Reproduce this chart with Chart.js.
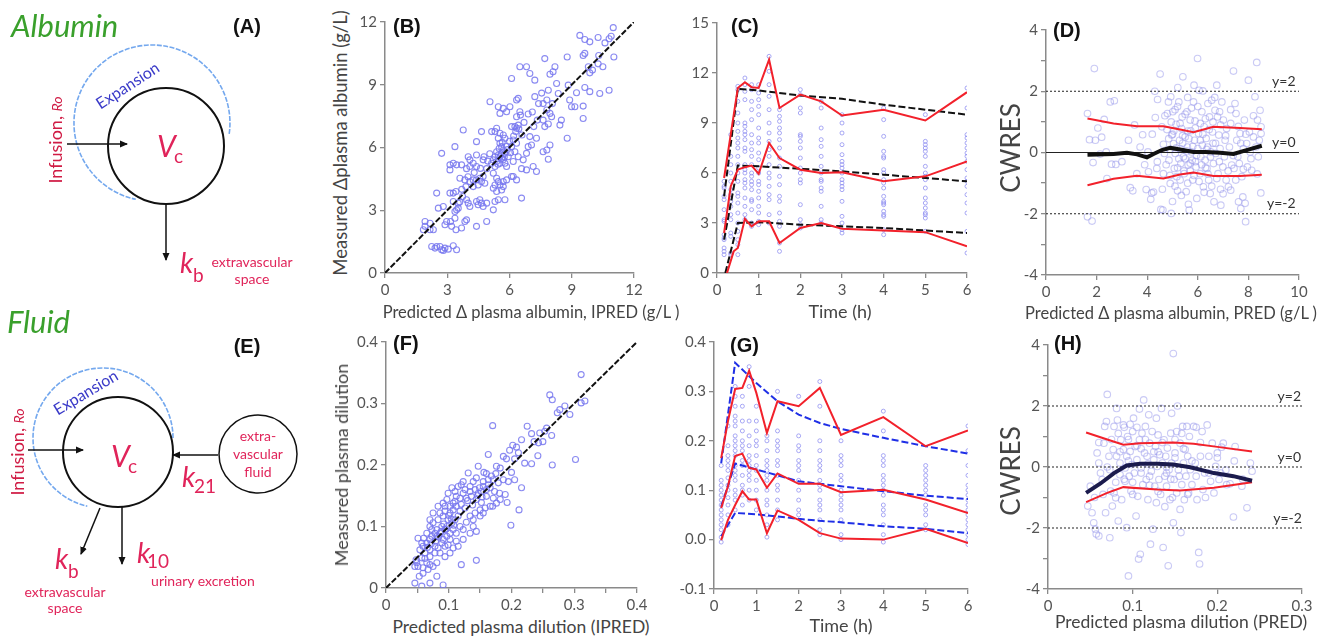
<!DOCTYPE html>
<html>
<head>
<meta charset="utf-8">
<script src="https://cdn.jsdelivr.net/npm/chart.js@4.4.0/dist/chart.umd.min.js"></script>
<style>
  body { margin: 0; background: #fff; width: 1327px; height: 640px; position: relative; overflow: hidden; font-family: Lato, sans-serif; }
  .box { position: absolute; }
  svg { position: absolute; left: 0; top: 0; pointer-events: none; }
  .ttl { position: absolute; white-space: nowrap; color: #444; line-height: 1; transform: translate(-50%, -50%); }
  .ttl.v { transform: translate(-50%, -50%) rotate(-90deg); }
</style>
</head>
<body>
<div class="box" id="pB"></div>
<div class="box" id="pC"></div>
<div class="box" id="pD"></div>
<div class="box" id="pF"></div>
<div class="box" id="pG"></div>
<div class="box" id="pH"></div>

<!-- axis titles -->
<div class="ttl" style="left:531px;top:312px;font-size:16.5px">Predicted Δ plasma albumin, IPRED (g/L )</div>
<div class="ttl v" style="left:340px;top:143px;font-size:18.5px">Measured Δplasma albumin (g/L)</div>
<div class="ttl" style="left:840px;top:311px;font-size:18px">Time (h)</div>
<div class="ttl" style="left:1171px;top:313px;font-size:16.5px">Predicted Δ plasma albumin, PRED (g/L )</div>
<div class="ttl v" style="left:1010px;top:148px;font-size:26px">CWRES</div>
<div class="ttl" style="left:521px;top:627px;font-size:17.5px">Predicted plasma dilution (IPRED)</div>
<div class="ttl v" style="left:341px;top:465px;font-size:18px">Measured plasma dilution</div>
<div class="ttl" style="left:841px;top:625px;font-size:18px">Time (h)</div>
<div class="ttl" style="left:1181px;top:622px;font-size:17.5px">Predicted plasma dilution (PRED)</div>
<div class="ttl v" style="left:1010px;top:471px;font-size:26px">CWRES</div>

<svg width="1327" height="640" font-family="Lato, sans-serif">
  <defs>
    <marker id="ah" markerWidth="8" markerHeight="8" refX="7" refY="4" orient="auto" markerUnits="userSpaceOnUse">
      <path d="M0,0.5 L8,4 L0,7.5 Z" fill="#111"/>
    </marker>
  </defs>
  <!-- Albumin -->
  <text x="11" y="37" font-size="31" font-style="italic" fill="#3aa02c">Albumin</text>
  <text x="247" y="33" font-size="20" font-weight="bold" font-family="Liberation Sans, Arial" text-anchor="middle" fill="#111">(A)</text>
  <path d="M229.2,133.9 A78,78 0 1 0 135.8,199.3" fill="none" stroke="#74a8ee" stroke-width="1.6" stroke-dasharray="5 1.5"/>
  <circle cx="166" cy="146" r="58" fill="none" stroke="#111" stroke-width="2"/>
  <text x="128" y="91" font-size="16" fill="#3a3ac8" text-anchor="middle" transform="rotate(-33 128 86)">Expansion</text>
  <line x1="67" y1="144" x2="127" y2="144" stroke="#111" stroke-width="1.5" marker-end="url(#ah)"/>
  <text x="0" y="0" font-size="18" fill="#d01c45" text-anchor="middle" transform="translate(62 140) rotate(-90)">Infusion, <tspan font-style="italic" font-size="14">Ro</tspan></text>
  <text x="157" y="157" font-size="30" font-style="italic" fill="#e0245a">V</text>
  <text x="174" y="163" font-size="19" fill="#e0245a">c</text>
  <line x1="166" y1="204" x2="166" y2="260" stroke="#111" stroke-width="1.5" marker-end="url(#ah)"/>
  <text x="180" y="273" font-size="28" font-style="italic" fill="#e0245a">k</text>
  <text x="193" y="282" font-size="19" fill="#e0245a">b</text>
  <text x="252" y="267" font-size="14" fill="#e0245a" text-anchor="middle">extravascular</text>
  <text x="252" y="284" font-size="14" fill="#e0245a" text-anchor="middle">space</text>

  <!-- Fluid -->
  <text x="7" y="333" font-size="31" font-style="italic" fill="#3aa02c">Fluid</text>
  <text x="247" y="353" font-size="20" font-weight="bold" font-family="Liberation Sans, Arial" text-anchor="middle" fill="#111">(E)</text>
  <path d="M173,438 A70,70 0 1 0 87.3,506.2" fill="none" stroke="#74a8ee" stroke-width="1.6" stroke-dasharray="5 1.5"/>
  <circle cx="118" cy="452" r="55" fill="none" stroke="#111" stroke-width="2"/>
  <text x="86" y="398" font-size="16" fill="#3a3ac8" text-anchor="middle" transform="rotate(-31 86 393)">Expansion</text>
  <line x1="28" y1="450" x2="83" y2="450" stroke="#111" stroke-width="1.5" marker-end="url(#ah)"/>
  <text x="0" y="0" font-size="18" fill="#d01c45" text-anchor="middle" transform="translate(24 452) rotate(-90)">Infusion, <tspan font-style="italic" font-size="14">Ro</tspan></text>
  <text x="111" y="467" font-size="30" font-style="italic" fill="#e0245a">V</text>
  <text x="128" y="473" font-size="19" fill="#e0245a">c</text>
  <circle cx="258" cy="454" r="39" fill="none" stroke="#111" stroke-width="1.5"/>
  <text x="258" y="441" font-size="14" fill="#e0245a" text-anchor="middle">extra-</text>
  <text x="258" y="459" font-size="14" fill="#e0245a" text-anchor="middle">vascular</text>
  <text x="258" y="477" font-size="14" fill="#e0245a" text-anchor="middle">fluid</text>
  <line x1="218" y1="455" x2="173" y2="455" stroke="#111" stroke-width="1.5" marker-end="url(#ah)"/>
  <text x="182" y="487" font-size="28" font-style="italic" fill="#e0245a">k</text>
  <text x="194" y="493" font-size="19" fill="#e0245a">21</text>
  <line x1="100" y1="508" x2="81" y2="554" stroke="#111" stroke-width="1.5" marker-end="url(#ah)"/>
  <line x1="122" y1="507" x2="122" y2="564" stroke="#111" stroke-width="1.5" marker-end="url(#ah)"/>
  <text x="55" y="569" font-size="28" font-style="italic" fill="#e0245a">k</text>
  <text x="68" y="578" font-size="19" fill="#e0245a">b</text>
  <text x="65" y="597" font-size="14" fill="#e0245a" text-anchor="middle">extravascular</text>
  <text x="65" y="613" font-size="14" fill="#e0245a" text-anchor="middle">space</text>
  <text x="137" y="563" font-size="28" font-style="italic" fill="#e0245a">k</text>
  <text x="147" y="568" font-size="19" fill="#e0245a">10</text>
  <text x="203" y="586" font-size="14" fill="#e0245a" text-anchor="middle">urinary excretion</text>

  <!-- panel letters -->
  <g font-size="20" font-weight="bold" font-family="Liberation Sans, Arial" fill="#111">
    <text x="393" y="33">(B)</text>
    <text x="731" y="33">(C)</text>
    <text x="1053" y="37">(D)</text>
    <text x="393" y="350">(F)</text>
    <text x="730" y="352">(G)</text>
    <text x="1054" y="350">(H)</text>
  </g>
</svg>

<script>
// ---- (B) measured vs predicted albumin (x = IPRED, y = measured)
const albuminIpredObs = [
  [9.39,11.36],[9.63,11.16],[9.87,11.05],[10.27,11.26],[11.0,11.73],[10.9,11.32],[10.8,11.2],[10.6,11.0],[11.03,10.33],[10.3,10.4],
  [10.27,10.0],[10.0,9.7],[9.8,9.86],[9.87,9.57],[9.63,10.5],[9.55,10.4],[10.5,9.86],[10.35,8.58],[10.8,8.74],[9.87,8.67],
  [9.63,8.87],[9.55,7.98],[9.55,7.39],[9.23,8.62],[8.9,8.27],[8.99,7.95],[9.15,7.95],[8.78,10.33],[8.83,8.98],[8.78,6.44],
  [8.43,7.07],[8.5,7.31],[8.35,8.58],[8.27,9.06],[8.19,9.86],[8.1,9.62],[7.95,9.5],[7.87,8.74],[7.7,10.25],[7.8,8.27],
  [7.62,8.1],[7.8,7.79],[7.95,7.63],[8.03,7.47],[8.07,8.1],[7.62,7.31],[7.87,7.12],[7.7,7.0],[7.95,6.12],[7.8,5.88],
  [7.87,5.44],[7.62,5.8],[7.34,7.31],[7.3,6.44],[7.17,7.0],[7.22,8.43],[7.22,9.22],[6.98,9.54],[6.82,9.86],[6.5,9.86],
  [6.1,9.3],[6.98,6.52],[7.06,6.12],[7.14,5.09],[7.3,4.85],[6.9,6.04],[6.82,5.72],[6.66,5.41],[6.82,4.93],[6.58,4.99],
  [6.58,3.58],[6.34,8.27],[6.42,8.35],[6.34,7.47],[6.42,7.07],[6.5,7.71],[6.53,7.55],[6.26,7.0],[6.34,6.92],[6.1,7.0],
  [6.3,6.76],[6.18,6.36],[6.34,6.2],[6.1,6.04],[6.26,5.8],[6.42,5.56],[6.18,5.33],[5.94,5.56],[6.18,4.61],[6.1,4.61],
  [6.34,4.45],[5.86,4.45],[5.7,4.37],[6.02,7.95],[5.86,7.71],[5.7,7.87],[5.54,7.63],[5.46,7.95],[5.06,8.19],[5.14,6.76],
  [5.3,6.76],[5.38,6.92],[5.54,6.68],[5.7,6.6],[5.78,6.44],[5.46,6.44],[5.54,6.2],[5.62,6.04],[5.7,5.88],[5.78,5.72],
  [5.38,5.8],[5.46,5.64],[5.3,5.56],[5.54,5.56],[5.62,5.48],[5.7,5.41],[5.22,5.41],[5.14,5.25],[5.38,5.33],[5.54,5.25],
  [5.78,5.25],[5.86,5.09],[5.3,5.09],[5.22,4.77],[5.38,4.53],[5.46,4.37],[5.3,4.21],[5.54,4.21],[5.7,4.13],[5.22,4.05],
  [5.38,3.9],[5.62,3.97],[5.46,3.5],[5.3,3.42],[5.78,3.5],[5.22,3.02],[4.73,5.41],[4.77,5.56],[4.9,4.99],[4.73,4.61],
  [4.57,4.53],[4.65,4.37],[4.81,4.29],[4.41,4.45],[4.49,4.21],[4.25,4.45],[4.09,4.37],[4.25,4.13],[4.01,5.56],[4.09,5.41],
  [4.25,5.25],[4.09,5.09],[3.93,4.99],[4.41,5.09],[4.41,5.64],[4.65,6.76],[4.41,6.28],[3.77,6.84],[3.37,6.04],[3.29,5.25],
  [3.45,5.17],[3.13,5.17],[3.13,4.93],[3.69,5.17],[3.61,4.53],[3.85,4.45],[3.9,4.13],[3.74,3.66],[3.93,3.5],[4.01,3.34],
  [4.09,3.18],[4.41,3.42],[4.57,3.5],[4.65,3.34],[4.49,3.26],[4.73,3.18],[4.9,3.34],[4.9,2.46],[4.41,2.23],[3.53,3.1],
  [3.45,3.02],[3.37,2.94],[3.53,3.34],[3.29,3.42],[3.42,3.9],[3.29,3.82],[3.13,3.82],[2.81,3.18],[2.57,3.1],[2.73,5.72],
  [3.37,2.62],[3.16,2.46],[2.97,2.46],[3.21,2.23],[3.42,2.07],[3.69,2.15],[3.85,2.46],[3.93,2.54],[2.89,2.31],[2.49,3.82],
  [2.17,2.38],[1.93,2.46],[1.93,2.23],[1.85,2.07],[2.17,2.07],[2.33,2.07],[2.65,1.27],[2.49,1.27],[2.25,1.27],[2.89,1.19],
  [3.05,1.14],[3.29,1.3],[3.45,1.11],[2.73,1.11],[2.81,1.08],[2.41,1.19],[5.9,5.9],[6.0,6.3],[5.6,5.7],[6.6,6.6],
  [5.5,5.95],[5.65,6.25],[5.75,5.55],[5.45,5.2],[5.85,6.05],[6.05,5.75],[6.2,6.55],[6.45,6.9],[6.7,7.2],[6.9,7.6],
  [7.1,7.7],[7.4,8.1],[7.55,8.6],[5.05,5.7],[4.95,5.35],[4.6,5.0],[4.3,4.8],[4.0,4.6],[3.7,4.0],[3.6,3.4]
];
const albuminIdentity = [[0,0],[12,12]];

// ---- (C) albumin vs time
const timesC = [0.17,0.33,0.5,0.67,0.83,1,1.25,1.5,2,2.5,3,4,5,6];
const albuminByTime = [
  [1.1,1.3,1.5,2.0,2.1,2.3,3.1,3.2,3.8,4.4,4.6,5.1,5.2,5.5],
  [1.1,1.2,2.2,2.4,3.2,3.5,4.0,4.3,4.5,4.7,5.0,5.5,6.0,6.5,7.0,8.3],
  [1.1,1.7,2.0,2.5,3.0,3.6,4.2,4.6,4.8,5.5,6.0,6.5,7.0,7.5,7.8,8.1,8.5,9.0,9.6,10.3,11.0,11.2],
  [3.2,3.5,4.0,4.5,5.1,5.4,5.6,6.0,6.2,6.5,7.3,7.5,8.0,8.3,8.5,8.8,9.0,10.4,10.9,11.3,11.7],
  [2.8,3.0,3.8,4.3,4.4,5.0,5.3,5.5,5.8,6.0,6.5,7.0,7.4,7.8,8.3,9.2,9.8,10.3,11.0,11.3],
  [2.9,3.1,3.6,4.0,4.5,4.9,5.3,5.5,6.0,6.3,6.8,7.2,7.8,8.1,8.7,9.5,10.0,10.4,10.8,11.3],
  [3.0,3.5,4.4,4.7,5.2,5.7,6.0,6.5,7.0,7.4,7.9,8.4,9.0,9.8,10.6,11.3,12.1,13.0],
  [1.3,1.8,2.8,3.1,3.6,4.3,4.6,5.3,5.8,6.4,6.9,7.5,8.0,8.4,8.7,9.1,9.4,9.8],
  [2.7,2.9,3.2,4.1,5.4,5.6,6.0,6.3,6.9,7.5,7.9,8.2,8.3,9.6,9.9,10.7,11.0],
  [3.0,3.2,4.0,4.9,5.1,5.5,5.6,6.0,6.4,7.0,7.6,8.0,8.7,9.9,10.3],
  [2.4,2.6,3.0,3.4,4.3,5.0,5.2,5.4,5.6,6.0,6.3,6.5,6.7,7.1,7.7,8.4,9.0,9.5],
  [2.3,2.6,3.4,3.5,3.7,4.1,4.2,4.3,4.6,5.1,5.4,5.6,6.0,6.2,6.9,7.0,7.3,8.2,9.2,9.9],
  [2.5,3.3,3.5,3.6,3.9,4.2,4.5,5.1,5.6,5.8,6.0,6.4,7.0,7.3,7.5,7.7,7.9,9.5],
  [1.2,2.5,3.6,4.2,4.7,5.2,5.5,5.7,6.2,6.7,7.0,7.2,7.5,7.8,8.1,8.3,9.9,11.1]
];
const albObsHiX = [0.17,0.5,0.67,0.83,1,1.25,1.5,2,2.5,3,4,5,6];
const albObsHiY = [5.7,11.1,11.45,11.15,11.1,12.8,9.9,10.7,10.3,9.45,9.8,9.15,10.85];
const albObsMidX = [0.17,0.33,0.5,0.67,0.83,1,1.25,1.5,2,2.5,3,4,5,6];
const albObsMidY = [2.4,5.2,6.2,6.35,6.45,5.95,7.8,6.9,6.2,6.0,6.05,5.5,5.8,6.7];
const albObsLoX = [0.24,0.4,0.5,0.67,0.83,1,1.25,1.5,2,2.5,3,4,5,6];
const albObsLoY = [0,1.3,1.5,3.25,2.8,3.1,3.1,1.8,2.7,3.0,2.65,2.55,2.45,1.6];
const albModX = [0.17,0.5,1,2,3,4,5,6];
const albModHiY = [4.6,11.05,10.95,10.65,10.45,10.1,9.8,9.5];
const albModMidY = [2.0,6.45,6.4,6.25,6.1,5.9,5.7,5.5];
const albModLoX = [0.2,0.5,1,2,3,4,5,6];
const albModLoY = [0,3.0,3.05,2.9,2.8,2.7,2.55,2.4];

// ---- (D) CWRES vs PRED, albumin
const albuminCwres = [
  [1.64,1.27],[1.72,0.42],[1.91,2.74],[1.64,-2.1],[1.82,-2.24],[1.95,0.4],[2.05,0.8],[1.86,-0.33],[2.14,-0.05],[2.3,1.08],
  [2.38,0.02],[2.41,-0.85],[2.54,1.65],[2.7,1.69],[2.59,-0.38],[2.76,-0.39],[3.26,0.4],[3.33,-1.15],[3.43,-1.25],[3.59,-0.69],
  [3.72,0.18],[3.82,0.58],[3.96,-1.21],[4.03,0.02],[4.05,-0.63],[4.14,-1.53],[4.25,-1.29],[4.18,-1.32],[4.32,1.14],[4.38,-0.52],
  [4.41,1.73],[4.51,2.56],[4.54,-1.86],[4.58,0.84],[4.62,-1.88],[4.64,0.27],[4.68,-0.03],[4.64,-0.69],[4.78,0.75],[4.8,1.27],
  [4.84,1.65],[4.86,-0.25],[4.91,-1.01],[4.93,1.82],[4.97,0.57],[4.95,-1.99],[5.01,1.33],[5.04,0.29],[5.07,-0.52],[5.11,-0.03],
  [5.14,0.92],[5.17,-0.79],[5.2,-1.25],[5.21,2.12],[5.25,1.65],[5.28,0.4],[5.3,0.13],[5.33,-0.36],[5.36,0.78],[5.38,1.16],
  [5.41,2.47],[5.43,-0.14],[5.46,-0.69],[5.5,0.51],[5.54,-1.28],[5.57,1.33],[5.59,0.18],[5.62,-0.41],[5.63,-1.69],[5.66,-1.88],
  [5.7,1.06],[5.72,0.71],[5.75,0.02],[5.78,-0.25],[5.8,-0.9],[5.83,1.65],[5.87,0.4],[5.89,1.03],[5.93,-0.47],[5.96,-1.5],
  [5.99,3.07],[6.0,0.13],[6.03,0.62],[6.05,2.03],[6.09,-0.69],[6.12,-0.14],[6.16,1.33],[6.18,0.24],[6.2,2.01],[6.22,-1.12],
  [6.25,0.84],[6.29,-0.25],[6.33,0.46],[6.36,-0.52],[6.39,0.18],[6.43,-0.9],[6.46,1.16],[6.49,-1.34],[6.51,0.02],[6.55,1.71],
  [6.58,0.67],[6.62,-0.36],[6.64,-1.61],[6.67,1.8],[6.68,1.38],[6.71,-0.03],[6.75,2.2],[6.78,1.16],[6.8,-0.69],[6.83,0.57],
  [6.86,1.33],[6.88,0.13],[6.91,-1.72],[6.95,1.65],[6.99,-0.47],[7.01,1.06],[7.05,-0.14],[7.08,0.4],[7.12,-0.9],[7.14,0.78],
  [7.21,-1.12],[7.25,0.18],[7.3,-1.23],[7.34,-0.41],[7.41,2.66],[7.43,-0.52],[7.47,1.6],[7.51,1.27],[7.54,0.4],[7.58,-0.14],
  [7.61,-1.61],[7.64,-0.36],[7.67,0.62],[7.7,-1.83],[7.74,-0.79],[7.78,-1.45],[7.8,0.13],[7.84,1.06],[7.87,-1.66],[7.89,-2.26],
  [7.93,0.29],[7.96,-0.47],[8.0,2.36],[8.04,0.67],[8.07,0.02],[8.13,-0.58],[8.2,0.51],[8.26,1.82],[8.3,0.18],[8.33,2.94],
  [8.36,1.06],[8.39,-0.14],[8.43,0.4],[8.46,1.38],[8.49,-1.32],[8.5,0.62],[8.5,0.84],[5.0,0.6],[5.2,-0.5],[5.4,0.3],
  [5.1,1.4],[5.3,-0.9],[5.6,0.7],[5.7,-0.6],[6.1,0.4],[6.3,-0.5],[4.9,0.1],[5.5,-0.2],[5.9,-0.3],[6.6,0.3],
  [4.7,1.2],[4.75,-0.4],[4.85,0.45],[4.9,-0.75],[4.95,1.0],[5.05,0.7],[5.1,-1.1],[5.15,0.15],[5.2,1.5],[5.25,-0.2],
  [5.3,0.95],[5.35,-1.4],[5.4,0.55],[5.45,-0.6],[5.5,1.25],[5.55,0.05],[5.6,-1.0],[5.65,0.45],[5.7,-0.35],[5.75,1.45],
  [5.8,0.2],[5.85,-0.75],[5.9,0.8],[5.95,-0.1],[6.0,1.5],[6.05,-0.95],[6.1,0.95],[6.15,-0.4],[6.2,0.6],[6.25,-1.3],
  [6.3,1.1],[6.35,0.1],[6.4,-0.7],[6.45,0.75],[6.5,-0.15],[6.55,-1.1],[6.6,1.0],[6.7,0.3],[6.75,-0.85],[6.85,-0.3],
  [6.9,0.9],[7.0,-1.35],[7.1,0.55],[7.2,-0.6],[7.3,0.95],[7.4,-0.1],[7.5,-0.9],[7.6,0.85],[7.7,0.3],[7.8,-0.55],
  [7.9,0.6],[8.1,-0.2],[8.2,1.2],[8.35,-0.7],[4.4,-0.3],[4.2,0.6],[3.9,-0.4],[3.5,0.9],[3.0,-0.3],[2.2,0.5],
  [4.6,-1.2],[5.0,-1.6],[5.6,1.8],[6.4,1.6],[7.3,1.4],[6.9,-1.2],[4.3,2.0],[5.85,2.2]
];
const albCwresHiX = [1.64,2.67,3.6,4.64,5.3,5.83,6.62,7.67,8.53];
const albCwresHiY = [1.11,0.95,0.86,0.86,0.75,0.66,0.84,0.8,0.76];
const albCwresLoX = [1.64,2.67,3.59,4.64,5.3,5.83,6.62,7.67,8.53];
const albCwresLoY = [-1.07,-0.86,-0.76,-0.85,-0.72,-0.65,-0.77,-0.77,-0.73];
const albCwresMidX = [1.64,2.67,3.2,3.6,3.99,4.25,4.58,4.91,5.3,5.83,6.3,6.88,7.41,7.93,8.53];
const albCwresMidY = [-0.07,-0.05,-0.01,-0.06,-0.16,-0.05,0.08,0.15,0.1,0.02,0.02,-0.01,-0.05,0.08,0.22];

// ---- (F) measured vs predicted plasma dilution
const dilutionIpredObs = [
  [0.311,0.347],[0.261,0.314],[0.265,0.306],[0.317,0.304],[0.311,0.301],[0.285,0.296],[0.277,0.29],[0.273,0.285],[0.293,0.282],[0.17,0.264],
  [0.225,0.263],[0.256,0.26],[0.253,0.255],[0.245,0.252],[0.232,0.251],[0.216,0.241],[0.236,0.238],[0.243,0.236],[0.25,0.238],[0.264,0.248],
  [0.202,0.232],[0.208,0.229],[0.197,0.224],[0.211,0.22],[0.242,0.215],[0.187,0.214],[0.192,0.21],[0.163,0.217],[0.205,0.21],[0.221,0.203],
  [0.232,0.202],[0.265,0.2],[0.302,0.209],[0.176,0.198],[0.147,0.198],[0.156,0.188],[0.16,0.186],[0.168,0.182],[0.175,0.186],[0.182,0.195],
  [0.2,0.188],[0.216,0.163],[0.195,0.173],[0.205,0.176],[0.187,0.176],[0.179,0.171],[0.181,0.154],[0.173,0.157],[0.171,0.146],[0.193,0.139],
  [0.17,0.133],[0.212,0.127],[0.199,0.102],[0.163,0.168],[0.155,0.165],[0.149,0.163],[0.144,0.179],[0.139,0.173],[0.131,0.187],[0.134,0.165],
  [0.126,0.16],[0.12,0.168],[0.115,0.165],[0.11,0.157],[0.105,0.163],[0.128,0.146],[0.136,0.149],[0.144,0.144],[0.152,0.139],[0.16,0.149],
  [0.158,0.13],[0.15,0.127],[0.142,0.122],[0.134,0.117],[0.144,0.092],[0.139,0.1],[0.128,0.107],[0.123,0.095],[0.112,0.089],[0.144,0.045],
  [0.12,0.038],[0.12,0.136],[0.112,0.133],[0.107,0.127],[0.102,0.122],[0.097,0.144],[0.094,0.133],[0.091,0.117],[0.099,0.111],[0.105,0.106],
  [0.11,0.111],[0.115,0.117],[0.118,0.1],[0.107,0.095],[0.102,0.089],[0.097,0.084],[0.091,0.079],[0.086,0.089],[0.081,0.095],[0.083,0.111],
  [0.075,0.106],[0.07,0.1],[0.078,0.089],[0.073,0.084],[0.07,0.079],[0.065,0.073],[0.059,0.068],[0.054,0.062],[0.051,0.081],[0.062,0.057],
  [0.07,0.051],[0.081,0.041],[0.075,0.035],[0.067,0.03],[0.059,0.024],[0.053,0.019],[0.057,0.003],[0.07,0.008],[0.091,0.005],[0.081,0.019],
  [0.046,0.008],[0.049,0.041],[0.046,0.035],[0.094,0.068],[0.086,0.057],[0.089,0.073],[0.099,0.07],[0.094,0.095],[0.102,0.079],[0.112,0.076],
  [0.115,0.068],[0.07,0.062],[0.078,0.068],[0.083,0.065],[0.078,0.057],[0.065,0.089],[0.073,0.095],[0.089,0.1],[0.097,0.1],[0.065,0.041],
  [0.057,0.049],[0.07,0.111],[0.086,0.122],[0.094,0.125],[0.102,0.133],[0.11,0.141],[0.118,0.146],[0.123,0.154],[0.134,0.157],[0.142,0.16],
  [0.147,0.154],[0.152,0.157],[0.16,0.16],[0.166,0.163],[0.155,0.173],[0.163,0.176],[0.171,0.176],[0.123,0.173],[0.112,0.149],[0.107,0.138],
  [0.099,0.154],[0.091,0.138],[0.083,0.133],[0.075,0.122],[0.081,0.084],[0.06,0.081],[0.057,0.073],[0.048,0.046],[0.051,0.035],[0.059,0.033],
  [0.07,0.038],[0.094,0.051],[0.102,0.057],[0.107,0.065],[0.123,0.079],[0.134,0.089],[0.139,0.111],[0.15,0.117],[0.155,0.122],[0.166,0.133],
  [0.176,0.138],[0.182,0.144],[0.19,0.152],[0.088,0.092],[0.092,0.104],[0.096,0.096],[0.104,0.112],[0.108,0.102],[0.1,0.118],[0.084,0.083],
  [0.079,0.076],[0.066,0.066],[0.062,0.048],[0.072,0.072],[0.118,0.125],[0.126,0.13],[0.13,0.142],[0.138,0.135],[0.146,0.15],[0.153,0.148]
];
const dilutionIdentity = [[0,0],[0.4,0.4]];

// ---- (G) plasma dilution vs time
const timesG = [0.17,0.33,0.5,0.67,0.83,1,1.25,1.5,2,2.5,3,4,5,6];
const dilutionByTime = [
  [-0.005,0.005,0.02,0.03,0.04,0.05,0.06,0.07,0.08,0.09,0.1,0.11,0.12,0.15],
  [0.03,0.05,0.07,0.085,0.1,0.11,0.125,0.14,0.15,0.16,0.17,0.19,0.23],
  [0.06,0.08,0.09,0.1,0.12,0.13,0.14,0.15,0.17,0.18,0.19,0.2,0.21,0.23,0.24,0.25,0.27,0.29,0.31],
  [0.07,0.09,0.1,0.11,0.13,0.15,0.16,0.18,0.19,0.2,0.22,0.24,0.27,0.29],
  [0.08,0.1,0.12,0.13,0.14,0.15,0.16,0.17,0.19,0.21,0.24,0.31,0.35],
  [0.06,0.08,0.1,0.12,0.14,0.15,0.17,0.19,0.2,0.22,0.24,0.27],
  [0.005,0.03,0.05,0.07,0.08,0.1,0.12,0.13,0.14,0.15,0.16,0.18,0.2,0.21],
  [0.04,0.06,0.08,0.1,0.11,0.13,0.15,0.16,0.18,0.19,0.2,0.22,0.3],
  [0.05,0.06,0.08,0.1,0.12,0.14,0.15,0.16,0.18,0.19,0.21,0.29],
  [0.01,0.02,0.04,0.06,0.07,0.08,0.1,0.11,0.12,0.14,0.15,0.16,0.18,0.2,0.27,0.32],
  [0.0,0.01,0.04,0.06,0.07,0.08,0.09,0.1,0.12,0.13,0.15,0.16,0.17,0.2],
  [-0.005,0.01,0.03,0.05,0.06,0.07,0.09,0.1,0.11,0.12,0.13,0.15,0.16,0.17,0.22,0.26],
  [0.02,0.03,0.05,0.06,0.07,0.09,0.1,0.11,0.12,0.13,0.14,0.15],
  [-0.01,0.0,0.01,0.02,0.03,0.04,0.05,0.06,0.07,0.08,0.09,0.1,0.11,0.13,0.15,0.18,0.23]
];
const dilObsX = [0.17,0.33,0.5,0.67,0.83,1,1.25,1.5,2,2.5,3,4,5,6];
const dilObsHiY = [0.165,0.24,0.305,0.307,0.342,0.297,0.216,0.28,0.27,0.307,0.212,0.248,0.189,0.221];
const dilObsMidY = [0.064,0.108,0.169,0.174,0.145,0.142,0.105,0.134,0.113,0.113,0.096,0.101,0.081,0.054];
const dilObsLoY = [-0.001,0.04,0.07,0.098,0.081,0.081,0.013,0.059,0.04,0.013,0.002,0,0.022,-0.007];
const dilModX = [0.17,0.5,1,1.5,2,2.5,3,4,5,6];
const dilModHiY = [0.155,0.358,0.317,0.28,0.253,0.236,0.224,0.206,0.189,0.174];
const dilModMidY = [0.067,0.154,0.142,0.13,0.118,0.113,0.108,0.098,0.089,0.082];
const dilModLoY = [0.007,0.054,0.051,0.047,0.042,0.038,0.035,0.027,0.022,0.013];

// ---- (H) CWRES vs PRED, plasma dilution
const dilutionCwres = [
  [0.047,-1.28],[0.05,-0.63],[0.052,-1.5],[0.054,-1.83],[0.056,-2.04],[0.057,-2.2],[0.06,-2.26],[0.058,0.46],[0.06,0.13],[0.062,-0.2],
  [0.064,-0.41],[0.066,0.78],[0.067,1.33],[0.069,1.49],[0.07,2.38],[0.072,0.35],[0.073,-0.09],[0.073,-2.32],[0.074,-0.79],[0.076,-1.28],
  [0.077,0.57],[0.078,-0.85],[0.078,1.33],[0.08,-1.01],[0.081,0.35],[0.081,1.92],[0.082,1.54],[0.083,-1.77],[0.085,0.13],[0.085,-0.25],
  [0.086,0.89],[0.087,-1.07],[0.089,1.38],[0.089,0.57],[0.091,-0.03],[0.091,-0.47],[0.093,0.35],[0.093,-1.99],[0.094,1.0],[0.095,-3.57],
  [0.096,-0.3],[0.097,0.51],[0.098,-0.79],[0.099,0.08],[0.1,1.16],[0.101,1.6],[0.102,-0.2],[0.103,0.67],[0.104,-1.61],[0.105,0.24],
  [0.106,-0.96],[0.107,-3.02],[0.108,0.89],[0.109,-2.86],[0.11,-0.03],[0.111,1.11],[0.112,-0.58],[0.113,2.2],[0.114,0.46],[0.115,1.33],
  [0.116,-0.41],[0.117,0.35],[0.118,-1.07],[0.119,1.71],[0.12,0.78],[0.121,-2.53],[0.122,-0.14],[0.123,1.16],[0.124,-2.04],[0.125,0.24],
  [0.126,-0.63],[0.127,0.67],[0.128,-1.17],[0.129,0.02],[0.13,1.05],[0.131,-0.41],[0.132,0.4],[0.133,-0.9],[0.134,1.92],[0.135,0.13],
  [0.136,-2.64],[0.137,0.89],[0.138,-0.3],[0.139,0.35],[0.14,-0.63],[0.141,0.62],[0.142,-3.24],[0.143,-0.09],[0.144,-1.07],[0.145,1.11],
  [0.146,1.76],[0.146,0.13],[0.148,3.72],[0.148,-1.83],[0.149,-0.41],[0.15,0.46],[0.152,1.16],[0.152,-0.85],[0.153,2.0],[0.154,-0.09],
  [0.156,-1.39],[0.156,0.78],[0.157,-2.15],[0.158,-0.58],[0.159,1.33],[0.16,0.13],[0.161,-1.07],[0.162,0.57],[0.163,-0.3],[0.164,1.33],
  [0.165,0.35],[0.166,-0.85],[0.167,1.0],[0.168,-0.09],[0.17,-0.58],[0.172,1.33],[0.174,0.13],[0.176,-1.07],[0.178,-2.8],[0.179,-3.18],
  [0.18,0.35],[0.182,1.16],[0.183,-0.74],[0.185,-0.2],[0.188,1.38],[0.19,0.35],[0.192,-0.47],[0.194,0.78],[0.196,-0.85],[0.198,0.02],
  [0.2,0.46],[0.202,-0.41],[0.204,-0.2],[0.207,0.78],[0.211,-0.58],[0.219,-1.64],[0.221,0.67],[0.229,-0.63],[0.235,-1.34],[0.241,-0.14],
  [0.239,0.13],[0.09,1.3],[0.1,-0.5],[0.11,0.6],[0.12,-0.3],[0.13,0.5],[0.14,-0.2],[0.15,0.3],[0.095,0.9],[0.105,1.3],
  [0.085,0.5],[0.09,-0.4],[0.095,0.2],[0.1,-0.9],[0.105,0.7],[0.11,-0.2],[0.115,0.9],[0.12,-0.6],[0.125,0.5],[0.13,-0.8],
  [0.135,0.8],[0.14,0.0],[0.145,-0.4],[0.15,0.9],[0.155,-0.3],[0.16,0.6],[0.165,-0.9],[0.17,0.2],[0.175,-0.3],[0.18,0.8],
  [0.19,-0.2],[0.2,0.3],[0.21,-0.1],[0.22,0.2],[0.23,-0.4],[0.065,-0.9],[0.07,0.0],[0.075,0.9],[0.08,-0.5],[0.055,-1.0],
  [0.06,0.8],[0.068,-1.5],[0.083,1.1],[0.097,1.4],[0.108,1.9],[0.118,0.1],[0.128,1.6],[0.138,-1.3],[0.147,-1.0],[0.158,1.1],
  [0.175,1.3],[0.186,-1.0],[0.205,0.65],[0.215,-0.55]
];
const dilCwresHiX = [0.045,0.07,0.089,0.109,0.148,0.172,0.2,0.241];
const dilCwresHiY = [1.13,0.9,0.73,0.78,0.8,0.76,0.66,0.51];
const dilCwresLoX = [0.045,0.07,0.089,0.129,0.156,0.196,0.241];
const dilCwresLoY = [-1.15,-0.85,-0.66,-0.74,-0.77,-0.68,-0.5];
const dilCwresMidX = [0.045,0.062,0.078,0.093,0.109,0.129,0.148,0.168,0.196,0.219,0.241];
const dilCwresMidY = [-0.85,-0.54,-0.2,0.05,0.11,0.11,0.08,-0.01,-0.2,-0.3,-0.45];

// ---------------------------------------------------------------
const FONT = "Lato, 'Open Sans', sans-serif";
const AXIS_GREY = "#8a8a8a";

function pairs(arr) {
  return arr.map((p) => ({ x: p[0], y: p[1] }));
}
function zipXY(xs, ys) {
  return xs.map((x, i) => ({ x: x, y: ys[i] }));
}
function columns(times, cols) {
  const out = [];
  times.forEach((t, i) => cols[i].forEach((v) => out.push({ x: t, y: v })));
  return out;
}

function lineSet(data, color, width, dash) {
  return { data: data, showLine: true, borderColor: color, borderWidth: width, borderDash: dash || [], pointRadius: 0, fill: false, tension: 0 };
}
function pointSet(data, color, radius, width) {
  return { data: data, showLine: false, pointRadius: radius, pointBorderWidth: width, pointBorderColor: color, pointBackgroundColor: "rgba(0,0,0,0)", borderColor: color };
}

function axis(min, max, step, fmt) {
  return {
    type: "linear",
    min: min,
    max: max,
    ticks: { stepSize: step, color: "#555", font: { family: FONT, size: 15 }, padding: 3, callback: fmt, autoSkip: false, maxRotation: 0 },
    grid: { drawOnChartArea: false, drawTicks: true, tickLength: 5, color: AXIS_GREY, lineWidth: 1.3 },
    border: { display: true, color: AXIS_GREY, width: 1.5 },
    title: { display: false },
  };
}

// text labels placed in data coordinates (y=2, y=0, ...)
const refLabels = {
  id: "refLabels",
  afterDatasetsDraw(chart, args, opts) {
    if (!opts.items) return;
    const { ctx, scales } = chart;
    ctx.save();
    ctx.font = "14px " + FONT;
    ctx.fillStyle = "#333";
    ctx.textAlign = "center";
    ctx.textBaseline = "bottom";
    opts.items.forEach((it) => {
      ctx.fillText(it.text, scales.x.getPixelForValue(it.x), scales.y.getPixelForValue(it.y) - 3);
    });
    ctx.restore();
  },
};

// box = [left, top, right, bottom] of the panel, area = plot area [l, t, r, b] in page pixels
function makePanel(id, box, area, xAxis, yAxis, datasets, labels) {
  const wrap = document.getElementById(id);
  const w = box[2] - box[0];
  const h = box[3] - box[1];
  wrap.style.left = box[0] + "px";
  wrap.style.top = box[1] + "px";
  const cv = document.createElement("canvas");
  cv.width = w;
  cv.height = h;
  cv.style.width = w + "px";
  cv.style.height = h + "px";
  wrap.appendChild(cv);
  xAxis.afterFit = ((hh) => (s) => { s.height = hh; })(box[3] - area[3]);
  yAxis.afterFit = ((ww) => (s) => { s.width = ww; })(area[0] - box[0]);
  return new Chart(cv, {
    type: "scatter",
    data: { datasets: datasets },
    options: {
      responsive: false,
      animation: false,
      devicePixelRatio: 1,
      events: [],
      layout: { padding: { left: 0, top: area[1] - box[1], right: box[2] - area[2], bottom: 0 } },
      plugins: { legend: { display: false }, tooltip: { enabled: false }, refLabels: { items: labels || [] } },
      scales: { x: xAxis, y: yAxis },
    },
    plugins: [refLabels],
  });
}

const intFmt = (v) => String(v);
const evenFmt = (v) => { const r = Math.round(v); return r % 2 === 0 ? String(r) : ""; };
const dilFmt = (v) => { const r = Math.round(v * 100) / 100; if (Math.abs(r) < 1e-9) return "0"; return Math.abs(r * 10 - Math.round(r * 10)) < 1e-6 ? r.toFixed(1) : ""; };
const oneDec = (v) => (Math.round(v * 10) / 10).toFixed(1);

const SCAT = "rgba(118,118,238,0.85)";
const SCAT_SMALL = "rgba(140,140,240,0.75)";
const SCAT_PALE = "rgba(150,150,235,0.5)";
const RED = "#f2212b";

// (B)
makePanel("pB", [352, 0, 660, 300], [385, 22, 634, 273],
  axis(0, 12, 3, intFmt),
  axis(0, 12, 3, intFmt),
  [
    lineSet(pairs(albuminIdentity), "#111", 2, [6, 2]),
    pointSet(pairs(albuminIpredObs), SCAT, 3, 1.1),
  ]);

// (C)
makePanel("pC", [680, 0, 985, 300], [717, 23, 967, 273],
  axis(0, 6, 1, intFmt),
  axis(0, 15, 3, intFmt),
  [
    lineSet(zipXY(albObsHiX, albObsHiY), RED, 2),
    lineSet(zipXY(albObsMidX, albObsMidY), RED, 2),
    lineSet(zipXY(albObsLoX, albObsLoY), RED, 2),
    lineSet(zipXY(albModX, albModHiY), "#111", 2, [7, 3]),
    lineSet(zipXY(albModX, albModMidY), "#111", 2, [7, 3]),
    lineSet(zipXY(albModLoX, albModLoY), "#111", 2, [7, 3]),
    pointSet(columns(timesC, albuminByTime), SCAT_SMALL, 2, 1),
  ]);

// (D)
makePanel("pD", [1018, 0, 1327, 300], [1046, 30, 1299, 275],
  axis(0, 10, 2, intFmt),
  axis(-4, 4, 1, evenFmt),
  [
    lineSet(zipXY(albCwresMidX, albCwresMidY), "#111", 4),
    lineSet(zipXY(albCwresHiX, albCwresHiY), RED, 2),
    lineSet(zipXY(albCwresLoX, albCwresLoY), RED, 2),
    lineSet([{ x: 0, y: 2 }, { x: 10, y: 2 }], "#222", 1, [2, 2]),
    lineSet([{ x: 0, y: -2 }, { x: 10, y: -2 }], "#222", 1, [2, 2]),
    lineSet([{ x: 0, y: 0 }, { x: 10, y: 0 }], "#222", 1),
    pointSet(pairs(albuminCwres), SCAT_PALE, 3.3, 1.1),
  ],
  [{ text: "y=2", x: 9.4, y: 2 }, { text: "y=0", x: 9.4, y: 0 }, { text: "y=-2", x: 9.3, y: -2 }]);

// (F)
makePanel("pF", [350, 320, 660, 615], [386, 342, 637, 588],
  axis(0, 0.4, 0.05, dilFmt),
  axis(0, 0.4, 0.1, dilFmt),
  [
    lineSet(pairs(dilutionIdentity), "#111", 2, [6, 2]),
    pointSet(pairs(dilutionIpredObs), SCAT, 3, 1.1),
  ]);

// (G)
makePanel("pG", [670, 320, 985, 615], [714, 342, 968, 589],
  axis(0, 6, 1, intFmt),
  axis(-0.1, 0.4, 0.1, oneDec),
  [
    lineSet(zipXY(dilObsX, dilObsHiY), RED, 2),
    lineSet(zipXY(dilObsX, dilObsMidY), RED, 2),
    lineSet(zipXY(dilObsX, dilObsLoY), RED, 2),
    lineSet(zipXY(dilModX, dilModHiY), "#1f2fe6", 2, [7, 3]),
    lineSet(zipXY(dilModX, dilModMidY), "#1f2fe6", 2, [7, 3]),
    lineSet(zipXY(dilModX, dilModLoY), "#1f2fe6", 2, [7, 3]),
    pointSet(columns(timesG, dilutionByTime), SCAT_SMALL, 2, 1),
  ]);

// (H)
makePanel("pH", [1020, 320, 1327, 615], [1048, 345, 1302, 589],
  axis(0, 0.3, 0.1, dilFmt),
  axis(-4, 4, 1, evenFmt),
  [
    lineSet(zipXY(dilCwresMidX, dilCwresMidY), "#1b1b4d", 4),
    lineSet(zipXY(dilCwresHiX, dilCwresHiY), RED, 2),
    lineSet(zipXY(dilCwresLoX, dilCwresLoY), RED, 2),
    lineSet([{ x: 0, y: 2 }, { x: 0.3, y: 2 }], "#222", 1, [2, 2]),
    lineSet([{ x: 0, y: -2 }, { x: 0.3, y: -2 }], "#222", 1, [2, 2]),
    lineSet([{ x: 0, y: 0 }, { x: 0.3, y: 0 }], "#222", 1, [2, 2]),
    pointSet(pairs(dilutionCwres), SCAT_PALE, 3.3, 1.1),
  ],
  [{ text: "y=2", x: 0.285, y: 2 }, { text: "y=0", x: 0.285, y: 0 }, { text: "y=-2", x: 0.283, y: -2 }]);
</script>
</body>
</html>
